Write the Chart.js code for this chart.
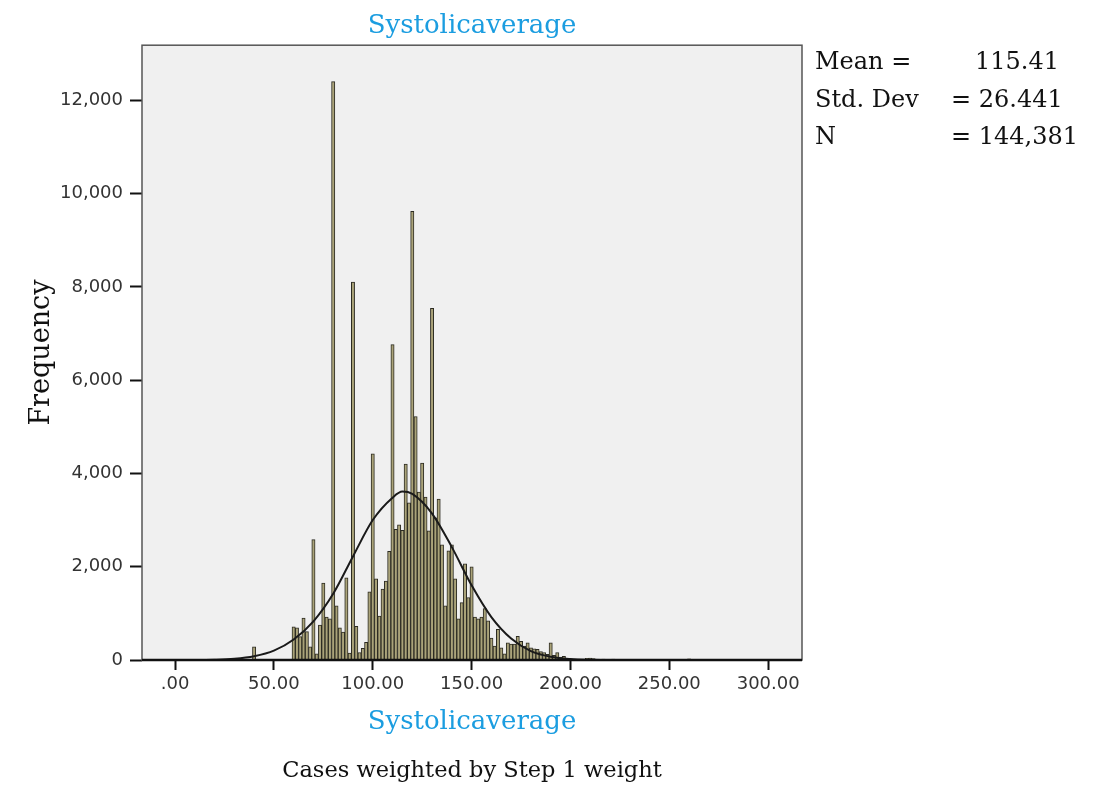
<!DOCTYPE html>
<html><head><meta charset="utf-8">
<script src="https://cdn.jsdelivr.net/npm/chart.js@4"></script>
<style>html,body{margin:0;padding:0;background:#fff;}canvas{display:block;}</style>
</head><body>
<canvas id="c" width="1106" height="787"></canvas>
<script>
const chartTitle = 'Systolicaverage';
const xAxisTitle = 'Systolicaverage';
const yAxisTitle = 'Frequency';
const footnote = 'Cases weighted by Step 1 weight';
const statLabels = ['Mean =', 'Std. Dev', 'N'];
const statValues = ['115.41', '= 26.441', '= 144,381'];
const xTickValues = [0, 50, 100, 150, 200, 250, 300];
const yTickValues = [0, 2000, 4000, 6000, 8000, 10000, 12000];
const binWidth = 5 / 3;
const firstBinCenter = 40;
const frequencies = [
  280,
  0,0,0,0,0,0,0,0,0,0,0,
  710,690,500,900,610,280,
  2580,130,750,1650,920,880,
  12400,1160,690,600,1760,150,
  8100,720,160,250,380,1460,
  4420,1740,940,1520,1690,2330,
  6760,2800,2900,2780,4200,3370,
  9620,5220,3600,4220,3490,2770,
  7540,3050,3450,2470,1160,2340,
  2470,1740,880,1230,2060,1340,
  2000,920,880,920,1100,840,
  470,300,660,260,130,370,
  340,340,510,400,300,370,
  260,240,230,180,160,120,
  370,100,160,60,80,30,
  20,10,0,0,0,35,
  40,30,0,0,20,15,
  15,20,0,0,0,0,
  0,0,0,0,0,0,0,0,0,0,0,0,0,0,0,0,0,0,
  25
];
const curveX = [0, 10, 20, 30, 40, 50, 60, 70, 80, 90, 100, 110, 115, 120, 130, 140, 150, 160, 170, 180, 190, 200, 210, 220, 240, 260];
const curveY = [0, 0, 5, 25, 80, 200, 440, 830, 1420, 2220, 3000, 3480, 3610, 3560, 3140, 2420, 1600, 920, 460, 190, 70, 22, 6, 2, 0, 0];

const serif = '"DejaVu Serif", serif';
const sans = '"DejaVu Sans", sans-serif';

const barData = frequencies.map((f, i) => ({ x: firstBinCenter + i * binWidth, y: f }));
const curveData = curveX.map((x, i) => ({ x: x, y: curveY[i] }));

const framePlugin = {
  id: 'frame',
  beforeDraw(chart) {
    const { ctx, chartArea: a } = chart;
    ctx.save();
    ctx.fillStyle = '#f0f0f0';
    ctx.fillRect(a.left, a.top, a.right - a.left, a.bottom - a.top);
    ctx.restore();
  },
  afterDatasetsDraw(chart) {
    const { ctx, chartArea: a } = chart;
    ctx.save();
    ctx.strokeStyle = '#555';
    ctx.lineWidth = 1.5;
    ctx.strokeRect(a.left, a.top, a.right - a.left, a.bottom - a.top);
    ctx.strokeStyle = '#111';
    ctx.lineWidth = 2.5;
    ctx.beginPath();
    ctx.moveTo(a.left, a.bottom);
    ctx.lineTo(a.right, a.bottom);
    ctx.stroke();
    ctx.restore();
  },
  afterDraw(chart) {
    const ctx = chart.ctx;
    ctx.save();
    ctx.font = '24px ' + serif;
    ctx.fillStyle = '#111';
    ctx.textBaseline = 'middle';
    ctx.textAlign = 'left';
    const ys = [63, 101, 138];
    const vx = [975, 951, 951];
    statLabels.forEach((t, i) => ctx.fillText(t, 815, ys[i]));
    statValues.forEach((t, i) => ctx.fillText(t, vx[i], ys[i]));
    ctx.restore();
  }
};

new Chart(document.getElementById('c'), {
  type: 'bar',
  data: {
    datasets: [
      {
        type: 'line',
        data: curveData,
        borderColor: '#1a1a1a',
        borderWidth: 2,
        pointRadius: 0,
        fill: false,
        cubicInterpolationMode: 'monotone',
        order: 1
      },
      {
        type: 'bar',
        data: barData,
        backgroundColor: '#aaa379',
        borderColor: '#2c2b22',
        borderWidth: 1,
        barPercentage: 1,
        categoryPercentage: 1,
        order: 2
      }
    ]
  },
  plugins: [framePlugin],
  options: {
    responsive: false,
    devicePixelRatio: 1,
    animation: false,
    layout: { padding: { left: 0, right: 304, top: 0, bottom: 0 } },
    plugins: {
      legend: { display: false },
      tooltip: { enabled: false },
      title: {
        display: true, text: chartTitle, fullSize: false, color: '#1b9de0',
        font: { family: serif, size: 26, weight: 'normal' }, padding: { top: 11, bottom: 3 }
      },
      subtitle: {
        display: true, text: footnote, position: 'bottom', fullSize: false, color: '#111',
        font: { family: serif, size: 22.5, weight: 'normal' }, padding: { top: 9, bottom: 2 }
      }
    },
    scales: {
      x: {
        type: 'linear', min: -16.7, max: 317.1, offset: false,
        afterFit(s) { s.height = 89; },
        afterBuildTicks(s) { s.ticks = xTickValues.map(v => ({ value: v })); },
        border: { display: false },
        grid: { offset: false, drawOnChartArea: false, drawTicks: true, tickLength: 10, color: '#111', tickWidth: 2 },
        ticks: {
          autoSkip: false, maxRotation: 0, padding: 4, color: '#333',
          font: { family: sans, size: 18 },
          callback: v => v === 0 ? '.00' : v.toFixed(2)
        },
        title: {
          display: true, text: xAxisTitle, color: '#1b9de0',
          font: { family: serif, size: 26, weight: 'normal' }, padding: { top: 0, bottom: 11 }
        }
      },
      y: {
        min: 0, max: 13180,
        afterFit(s) { s.width = 142; },
        afterBuildTicks(s) { s.ticks = yTickValues.map(v => ({ value: v })); },
        border: { display: false },
        grid: { drawOnChartArea: false, drawTicks: true, tickLength: 12, color: '#111', tickWidth: 2 },
        ticks: {
          padding: 7, color: '#333',
          font: { family: sans, size: 18 },
          callback: v => v.toLocaleString('en-US')
        },
        title: {
          display: true, text: yAxisTitle, color: '#111',
          font: { family: serif, size: 27, weight: 'normal' }, padding: { top: 26, bottom: 0 }
        }
      }
    }
  }
});
</script>
</body></html>
